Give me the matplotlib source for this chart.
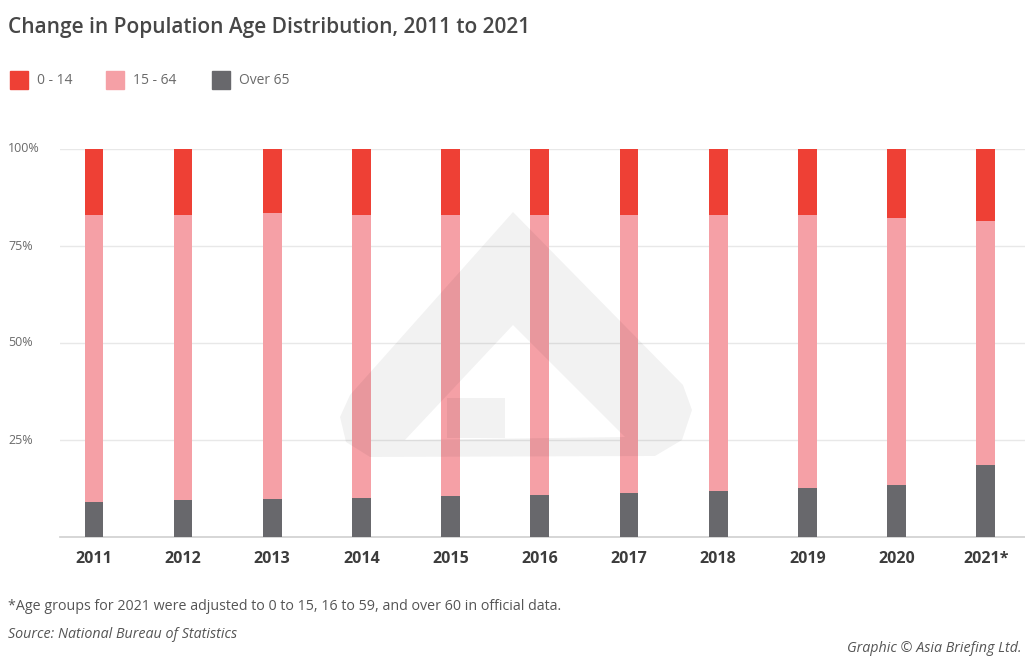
import matplotlib
matplotlib.use("Agg")
import matplotlib.pyplot as plt
from matplotlib.patches import Rectangle, PathPatch
from matplotlib.path import Path
import numpy as np

years = ["2011", "2012", "2013", "2014", "2015", "2016", "2017", "2018", "2019", "2020", "2021*"]
age_0_14 = [17.0, 17.0, 16.4, 17.0, 17.0, 17.0, 17.0, 17.0, 17.0, 17.8, 18.6]
over_65 = [9.1, 9.5, 9.7, 10.0, 10.5, 10.8, 11.3, 11.9, 12.6, 13.5, 18.5]
age_15_64 = [100 - a - b for a, b in zip(age_0_14, over_65)]

series_names = ["0 - 14", "15 - 64", "Over 65"]
colors = ["#EE4035", "#F5A0A6", "#68686C"]

plt.rcParams['font.family'] = ['Open Sans', 'DejaVu Sans']

W, H = 1025, 659
fig = plt.figure(figsize=(W / 100, H / 100), dpi=100)
fig.patch.set_facecolor("white")

def fx(px):
    return px / W

def fy(py):
    return 1 - py / H

ax = fig.add_axes([fx(60), fy(537), fx(1025) - fx(60), fy(149) - fy(537)])
x = np.arange(len(years))
bw = 0.21
ax.bar(x, over_65, bw, color=colors[2], zorder=3)
ax.bar(x, age_15_64, bw, bottom=over_65, color=colors[1], zorder=3)
ax.bar(x, age_0_14, bw, bottom=np.array(over_65) + np.array(age_15_64), color=colors[0], zorder=3)

ax.set_xlim(-0.38, 10.44)
ax.set_ylim(0, 100)
for s in ["top", "right", "left"]:
    ax.spines[s].set_visible(False)
ax.spines["bottom"].set_color("#cfcfcf")
ax.spines["bottom"].set_linewidth(1.2)
ax.set_yticks([25, 50, 75, 100])
ax.set_yticklabels([])
ax.tick_params(axis="y", length=0)
ax.yaxis.grid(True, color="#e8e8e8", linewidth=1.0, zorder=0)
ax.set_axisbelow(True)
ax.set_xticks(x)
ax.set_xticklabels(years, fontsize=11.5, fontweight="bold", color="#3c3c3c")
ax.tick_params(axis="x", length=0, pad=10)

# y tick labels, left aligned at figure edge
for v in [25, 50, 75, 100]:
    ypx = 537 - v / 100 * (537 - 149)
    fig.text(fx(8), fy(ypx), f"{v}%", fontsize=9, color="#6a6a6a", ha="left", va="center")

# title
fig.text(fx(8), fy(28), "Change in Population Age Distribution, 2011 to 2021",
         fontsize=15, fontweight="semibold", color="#474747", ha="left", va="center")

# legend
leg_x = [10, 106, 212]
for lx, name, c in zip(leg_x, series_names, colors):
    fig.patches.append(Rectangle((fx(lx), fy(89)), fx(18), fy(71) - fy(89),
                                 transform=fig.transFigure, color=c, figure=fig))
    fig.text(fx(lx + 27), fy(80), name, fontsize=10, color="#6a6a6a", ha="left", va="center")

# footnotes
fig.text(fx(8), fy(606), "*Age groups for 2021 were adjusted to 0 to 15, 16 to 59, and over 60 in official data.",
         fontsize=10.3, color="#555555", ha="left", va="center")
fig.text(fx(8), fy(634), "Source: National Bureau of Statistics",
         fontsize=10.3, color="#555555", ha="left", va="center", style="italic")
fig.text(fx(1022), fy(649), "Graphic © Asia Briefing Ltd.",
         fontsize=10.3, color="#555555", ha="right", va="center", style="italic")

# watermark overlay
ov = fig.add_axes([0, 0, 1, 1], zorder=10)
ov.set_xlim(0, W)
ov.set_ylim(H, 0)
ov.axis("off")
ov.patch.set_alpha(0)
outer = [(513, 212), (683, 385), (692, 410), (682, 440), (655, 456), (370, 457),
         (346, 442), (340, 417), (350, 395), (513, 212)]
hole = [(513, 325), (405, 440), (625, 437), (513, 325)]
verts = outer + hole
codes = ([Path.MOVETO] + [Path.LINETO] * (len(outer) - 2) + [Path.CLOSEPOLY] +
         [Path.MOVETO] + [Path.LINETO] * (len(hole) - 2) + [Path.CLOSEPOLY])
ov.add_patch(PathPatch(Path(verts, codes), facecolor="black", edgecolor="none", alpha=0.05))
ov.add_patch(Rectangle((447, 398), 58, 40, facecolor="black", edgecolor="none", alpha=0.05))

fig.savefig("out.png", dpi=100, facecolor="white")
